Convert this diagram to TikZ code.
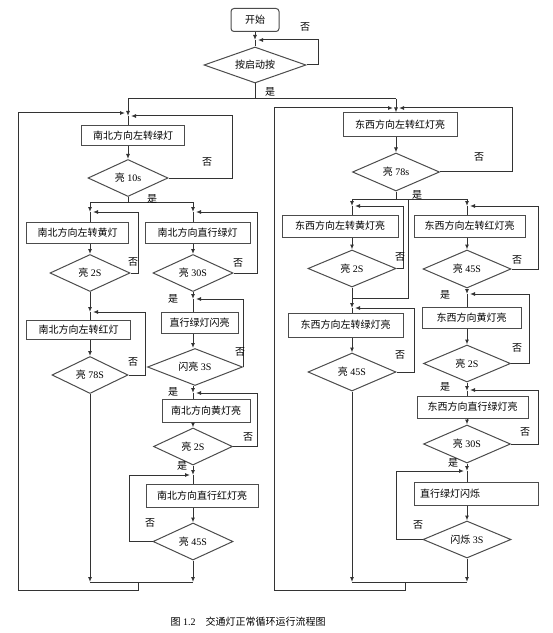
\documentclass[tikz,border=0pt]{standalone}
\usepackage{fontspec}
\setmainfont{Liberation Serif}
\newfontfamily\cjk{Noto Sans CJK SC}
\usetikzlibrary{shapes.geometric,arrows.meta}
\begin{document}
\begin{tikzpicture}[x=1bp,y=-1bp,
  ln/.style={draw=black!80, line width=1bp},
  arr/.style={ln, -{Latex[length=5bp,width=4bp]}},
  box/.style={draw=black!70, line width=1bp, rectangle, inner sep=0pt, font=\cjk\fontsize{10bp}{12bp}\selectfont},
  dia/.style={draw=black!70, line width=1bp, diamond, aspect=2, inner sep=0pt, font=\fontsize{10bp}{12bp}\selectfont},
  lab/.style={font=\cjk\fontsize{10bp}{12bp}\selectfont, inner sep=0pt}]
\useasboundingbox[fill=white] (0,0) rectangle (553,633);

% ---------- nodes ----------
\node[box, rounded corners=3bp, minimum width=48bp, minimum height=23bp] (start) at (255,20) {开始};
\node[dia, minimum width=102bp, minimum height=36bp, font=\cjk\fontsize{10bp}{12bp}\selectfont] (d0) at (255,65) {按启动按};

\node[box, minimum width=103bp, minimum height=20bp] (b1) at (133,136) {南北方向左转绿灯};
\node[dia, minimum width=80bp, minimum height=37bp] (d1) at (128,178) {{\cjk 亮} 10s};

\node[box, minimum width=101bp, minimum height=21bp] (b2) at (77.5,232.5) {南北方向左转黄灯};
\node[dia, minimum width=80bp, minimum height=37bp] (d2) at (90,273) {{\cjk 亮} 2S};
\node[box, minimum width=103bp, minimum height=19bp] (b3) at (78.5,330) {南北方向左转红灯};
\node[dia, minimum width=76bp, minimum height=37bp] (d3) at (90,375) {{\cjk 亮} 78S};

\node[box, minimum width=105bp, minimum height=21bp] (b4) at (197.5,232.5) {南北方向直行绿灯};
\node[dia, minimum width=80bp, minimum height=37bp] (d4) at (193,273) {{\cjk 亮} 30S};
\node[box, minimum width=77bp, minimum height=21bp] (b5) at (199.5,322.5) {直行绿灯闪亮};
\node[dia, minimum width=95bp, minimum height=37bp] (d5) at (195,367) {{\cjk 闪亮} 3S};
\node[box, minimum width=88bp, minimum height=23bp] (b6) at (206,410.5) {南北方向黄灯亮};
\node[dia, minimum width=79bp, minimum height=37bp] (d6) at (193,446.5) {{\cjk 亮} 2S};
\node[box, minimum width=112bp, minimum height=23bp] (b7) at (202,495.5) {南北方向直行红灯亮};
\node[dia, minimum width=80bp, minimum height=37bp] (d7) at (193,541.5) {{\cjk 亮} 45S};

\node[box, minimum width=114bp, minimum height=24bp] (b8) at (400,125) {东西方向左转红灯亮};
\node[dia, minimum width=87bp, minimum height=38bp] (d8) at (396,172) {{\cjk 亮} 78s};

\node[box, minimum width=116bp, minimum height=22bp] (b9) at (340,226) {东西方向左转黄灯亮};
\node[dia, minimum width=88bp, minimum height=37bp] (d9) at (352,268.5) {{\cjk 亮} 2S};
\node[box, minimum width=115bp, minimum height=24bp] (b10) at (345.5,325) {东西方向左转绿灯亮};
\node[dia, minimum width=88bp, minimum height=38bp] (d10) at (352,372) {{\cjk 亮} 45S};

\node[box, minimum width=111bp, minimum height=22bp] (b11) at (469.5,226) {东西方向左转红灯亮};
\node[dia, minimum width=88bp, minimum height=38bp] (d11) at (467,269) {{\cjk 亮} 45S};
\node[box, minimum width=99bp, minimum height=21bp] (b12) at (471.5,317.5) {东西方向黄灯亮};
\node[dia, minimum width=87bp, minimum height=37bp] (d12) at (467,363.5) {{\cjk 亮} 2S};
\node[box, minimum width=111bp, minimum height=22bp] (b13) at (472.5,407) {东西方向直行绿灯亮};
\node[dia, minimum width=87bp, minimum height=38bp] (d13) at (467,444) {{\cjk 亮} 30S};
\node[box, minimum height=23bp, text width=112bp, inner xsep=6bp, align=left] (b14) at (476,493.5) {直行绿灯闪烁};
\node[dia, minimum width=88bp, minimum height=37bp] (d14) at (467,539.5) {{\cjk 闪烁} 3S};

% ---------- coordinates ----------
\coordinate (jA) at (255,40); \coordinate (cA) at (318,40); \coordinate (eA) at (258,40);
\coordinate (cY) at (255,99); \coordinate (cYL) at (128,99); \coordinate (cYR) at (396,99);
\coordinate (jB1) at (128,116);
\coordinate (mL1) at (90,582); \coordinate (mL2) at (193,582);
\coordinate (oL1) at (138,582); \coordinate (oL2) at (18,590); \coordinate (eL) at (125,113);
\coordinate (c1) at (232,116); \coordinate (e1) at (131,116);
\coordinate (mR1) at (352,582); \coordinate (mR2) at (467,582);
\coordinate (oR1) at (405,582); \coordinate (oR2) at (274,590); \coordinate (eR) at (393,108);
\coordinate (c8) at (512,108); \coordinate (e8) at (399,108);

\coordinate (y1) at (128,202); \coordinate (y1L) at (90,202); \coordinate (y1R) at (193,202);
\coordinate (j2) at (90,212); \coordinate (j4) at (193,212);
\coordinate (c2) at (138,212); \coordinate (e2) at (93,212);
\coordinate (j3) at (90,312);
\coordinate (c3) at (145,312); \coordinate (e3) at (93,312);
\coordinate (c4) at (257,212); \coordinate (e4) at (196,212);
\coordinate (j5) at (193,299); \coordinate (e5) at (196,299);
\coordinate (j6) at (193,393);
\coordinate (c6) at (257,393); \coordinate (e6) at (196,393);
\coordinate (j7) at (193,475);
\coordinate (c7) at (129,475); \coordinate (e7) at (190,475);

\coordinate (y8) at (396,199); \coordinate (y8L) at (352,199); \coordinate (y8R) at (467,199);
\coordinate (j9) at (352,206); \coordinate (j11) at (467,206);
\coordinate (x1) at (408,199); \coordinate (x2) at (408,298); \coordinate (x3) at (352,298);
\coordinate (c9) at (403,206); \coordinate (e9) at (355,206);
\coordinate (j10) at (352,308);
\coordinate (c10) at (414,308); \coordinate (e10) at (355,308);
\coordinate (c11) at (538,206); \coordinate (e11) at (470,206);
\coordinate (j12) at (467,294);
\coordinate (c12) at (529,294); \coordinate (e12) at (470,294);
\coordinate (j13) at (467,391);
\coordinate (c13) at (538,390); \coordinate (e13) at (470,390);
\coordinate (j14) at (467,471);
\coordinate (c14) at (396,471); \coordinate (e14) at (464,471);

% ---------- connectors ----------
\draw[arr] (start) -- (jA);
\draw[ln] (jA) -- (d0.north);
\draw[arr] (d0.east) -| (cA) -- (eA);
\draw[ln] (d0.south) -- (cY);
\draw[ln] (cYL) -- (cYR);
\draw[arr] (cYL) -- (jB1);
\draw[ln] (jB1) -- (b1.north -| jB1);
\draw[arr] (cYR) -- (b8.north -| cYR);

% left outer loop
\draw[ln] (mL1) -- (mL2);
\draw[arr] (oL1) |- (oL2) |- (eL);
\draw[arr] (b1.south -| d1) -- (d1);
\draw[arr] (d1.east) -| (c1) -- (e1);

% right outer loop
\draw[ln] (mR1) -- (mR2);
\draw[arr] (oR1) |- (oR2) |- (eR);
\draw[arr] (b8.south -| d8) -- (d8);
\draw[arr] (d8.east) -| (c8) -- (e8);

% left half branches
\draw[ln] (d1.south) -- (y1);
\draw[ln] (y1L) -- (y1R);
\draw[arr] (y1L) -- (j2);
\draw[ln] (j2) -- (b2.north -| j2);
\draw[arr] (y1R) -- (j4);
\draw[ln] (j4) -- (b4.north -| j4);

\draw[arr] (b2.south -| d2) -- (d2);
\draw[arr] (d2.east) -| (c2) -- (e2);
\draw[arr] (d2.south) -- (j3);
\draw[ln] (j3) -- (b3.north -| j3);
\draw[arr] (b3.south -| d3) -- (d3);
\draw[arr] (d3.east) -| (c3) -- (e3);
\draw[arr] (d3.south) -- (mL1);

\draw[arr] (b4.south -| d4) -- (d4);
\draw[arr] (d4.east) -| (c4) -- (e4);
\draw[arr] (d4.south) -- (j5);
\draw[ln] (j5) -- (b5.north -| j5);
\draw[arr] (b5.south -| j5) -- (d5.north -| j5);
\draw[arr] (d5.east) |- (e5);
\draw[arr] (d5.south -| j6) -- (j6);
\draw[ln] (j6) -- (b6.north -| j6);
\draw[arr] (b6.south -| d6) -- (d6);
\draw[arr] (d6.east) -| (c6) -- (e6);
\draw[arr] (d6.south) -- (j7);
\draw[ln] (j7) -- (b7.north -| j7);
\draw[arr] (b7.south -| d7) -- (d7);
\draw[arr] (d7.west) -| (c7) -- (e7);
\draw[arr] (d7.south) -- (mL2);

% right half branches
\draw[ln] (d8.south) -- (y8);
\draw[ln] (y8L) -- (y8R);
\draw[arr] (y8L) -- (j9);
\draw[ln] (j9) -- (b9.north -| j9);
\draw[arr] (y8R) -- (j11);
\draw[ln] (j11) -- (b11.north -| j11);
\draw[ln] (x1) -- (x2) -- (x3);

\draw[arr] (b9.south -| d9) -- (d9);
\draw[arr] (d9.east) -| (c9) -- (e9);
\draw[arr] (d9.south) -- (j10);
\draw[ln] (j10) -- (b10.north -| j10);
\draw[arr] (b10.south -| d10) -- (d10);
\draw[arr] (d10.east) -| (c10) -- (e10);
\draw[arr] (d10.south) -- (mR1);

\draw[arr] (b11.south -| d11) -- (d11);
\draw[arr] (d11.east) -| (c11) -- (e11);
\draw[arr] (d11.south) -- (j12);
\draw[ln] (j12) -- (b12.north -| j12);
\draw[arr] (b12.south -| d12) -- (d12);
\draw[arr] (d12.east) -| (c12) -- (e12);
\draw[arr] (d12.south) -- (j13);
\draw[ln] (j13) -- (b13.north -| j13);
\draw[arr] (b13.south -| d13) -- (d13);
\draw[arr] (d13.east) -| (c13) -- (e13);
\draw[arr] (d13.south) -- (j14);
\draw[ln] (j14) -- (b14.north -| j14);
\draw[arr] (b14.south -| d14) -- (d14);
\draw[arr] (d14.west) -| (c14) -- (e14);
\draw[arr] (d14.south) -- (mR2);

% ---------- labels ----------
\node[lab] (n0) at (305,27) {否};
\node[lab] (n1) at (207,162) {否};
\node[lab] (n2) at (133,262) {否};
\node[lab] (n3) at (133,362) {否};
\node[lab] (n4) at (238,263) {否};
\node[lab] (n5) at (240,352) {否};
\node[lab] (n6) at (248,437) {否};
\node[lab] (n7) at (150,523) {否};
\node[lab] (n8) at (479,157) {否};
\node[lab] (n9) at (400,257) {否};
\node[lab] (n10) at (400,355) {否};
\node[lab] (n11) at (517,260) {否};
\node[lab] (n12) at (517,348) {否};
\node[lab] (n13) at (525,432) {否};
\node[lab] (n14) at (418,525) {否};

\node[lab] (s0) at (270,92) {是};
\node[lab] (s1) at (152,199) {是};
\node[lab] (s4) at (173,299) {是};
\node[lab] (s5) at (173,392) {是};
\node[lab] (s6) at (182,466) {是};
\node[lab] (s8) at (417,195) {是};
\node[lab] (s11) at (445,295) {是};
\node[lab] (s12) at (445,387) {是};
\node[lab] (s13) at (453,463) {是};

\node[font=\fontsize{10bp}{12bp}\selectfont, inner sep=0pt] (cap) at (248,622) {{\cjk 图} 1.2\quad{\cjk 交通灯正常循环运行流程图}};
\end{tikzpicture}
\end{document}
